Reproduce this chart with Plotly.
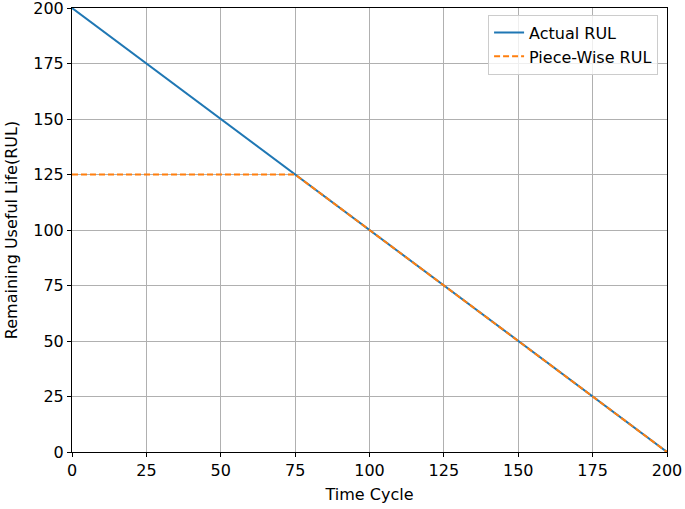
import plotly.graph_objects as go

actual_x = [0, 200]
actual_y = [200, 0]
piece_x = [0, 75, 200]
piece_y = [125, 125, 0]
ticks = [0, 25, 50, 75, 100, 125, 150, 175, 200]

FS = 16

fig = go.Figure()
fig.add_trace(go.Scatter(x=actual_x, y=actual_y, mode="lines", name="Actual RUL",
                         line=dict(color="#1f77b4", width=2)))
fig.add_trace(go.Scatter(x=piece_x, y=piece_y, mode="lines", name="Piece-Wise RUL",
                         line=dict(color="#ff7f0e", width=2, dash="6px,3px")))

axis_common = dict(range=[0, 200], tickvals=ticks, showgrid=True, gridcolor="#b0b0b0",
                   gridwidth=1, showline=True, linecolor="black", linewidth=1, mirror=True,
                   ticks="outside", ticklen=4, tickcolor="black", zeroline=False,
                   automargin=False, ticklabeloverflow="allow",
                   tickfont=dict(size=FS, color="black"))
fig.update_xaxes(title=dict(text="Time Cycle", font=dict(size=FS, color="black"), standoff=9),
                 **axis_common)
fig.update_yaxes(title=dict(text="Remaining Useful Life(RUL)", font=dict(size=FS, color="black"), standoff=11),
                 **axis_common)

fig.update_layout(
    width=685, height=509,
    margin=dict(l=72, r=18, t=8, b=57),
    paper_bgcolor="white", plot_bgcolor="white",
    font=dict(family="DejaVu Sans", size=FS, color="black"),
    legend=dict(x=0.985, y=0.985, xanchor="right", yanchor="top",
                bgcolor="rgba(255,255,255,0.8)", bordercolor="#cccccc", borderwidth=1,
                font=dict(size=FS), tracegroupgap=0),
    showlegend=True,
)
fig.write_html("out.html", config={"displayModeBar": False},
               post_script="document.body.style.margin='0';")
